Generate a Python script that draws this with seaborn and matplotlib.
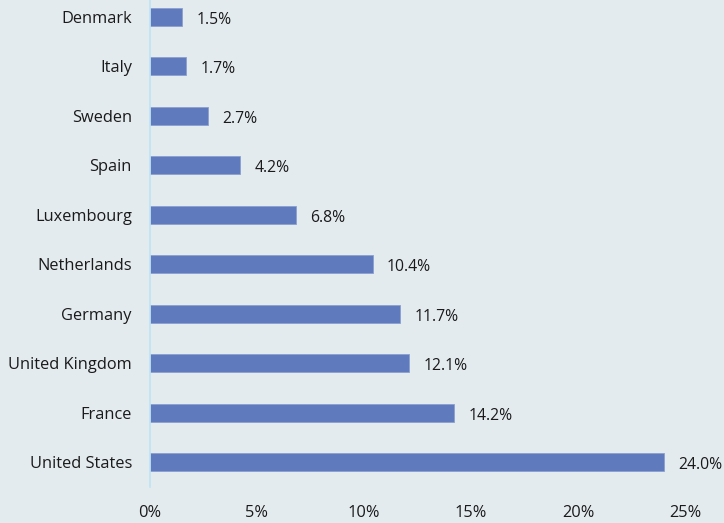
import matplotlib
matplotlib.use("Agg")
import matplotlib.pyplot as plt
import seaborn as sns
import pandas as pd

countries = ["Denmark", "Italy", "Sweden", "Spain", "Luxembourg", "Netherlands",
             "Germany", "United Kingdom", "France", "United States"]
shares = [1.5, 1.7, 2.7, 4.2, 6.8, 10.4, 11.7, 12.1, 14.2, 24.0]
xticks = [0, 5, 10, 15, 20, 25]
xtick_labels = ["0%", "5%", "10%", "15%", "20%", "25%"]

sns.set_theme(style="white")
plt.rcParams['font.family'] = ['Open Sans', 'DejaVu Sans']

bg = "#e4ebef"
df = pd.DataFrame({"country": countries, "share": shares})

fig = plt.figure(figsize=(7.24, 5.23), dpi=100, facecolor=bg)
ax = fig.add_axes([150/724, (523-487)/523, (685-150)/724, 495/523])
ax.set_facecolor(bg)

sns.barplot(data=df, x="share", y="country", orient="h", color="#5f7bbd",
            saturation=1, width=0.37, ax=ax, edgecolor="#8aa0d0", linewidth=0.6)

for i, v in enumerate(shares):
    ax.text(v + 0.68, i + 0.06, f"{v:.1f}%", va="center", ha="left",
            fontsize=11.3, color="#1a1a1a")

ax.set_xlim(0, 25)
ax.set_ylim(9.5, -0.5)
ax.set_xticks(xticks)
ax.set_xticklabels(xtick_labels)
ax.set_xlabel("")
ax.set_ylabel("")
ax.tick_params(axis="both", length=0, labelsize=11.8, colors="#1a1a1a")
ax.tick_params(axis="x", pad=13)
ax.tick_params(axis="y", pad=13)
for s in ["top", "right", "bottom"]:
    ax.spines[s].set_visible(False)
ax.spines["left"].set_color("#bde4f4")
ax.spines["left"].set_linewidth(1.2)

fig.savefig("out.png", dpi=100, facecolor=bg)
